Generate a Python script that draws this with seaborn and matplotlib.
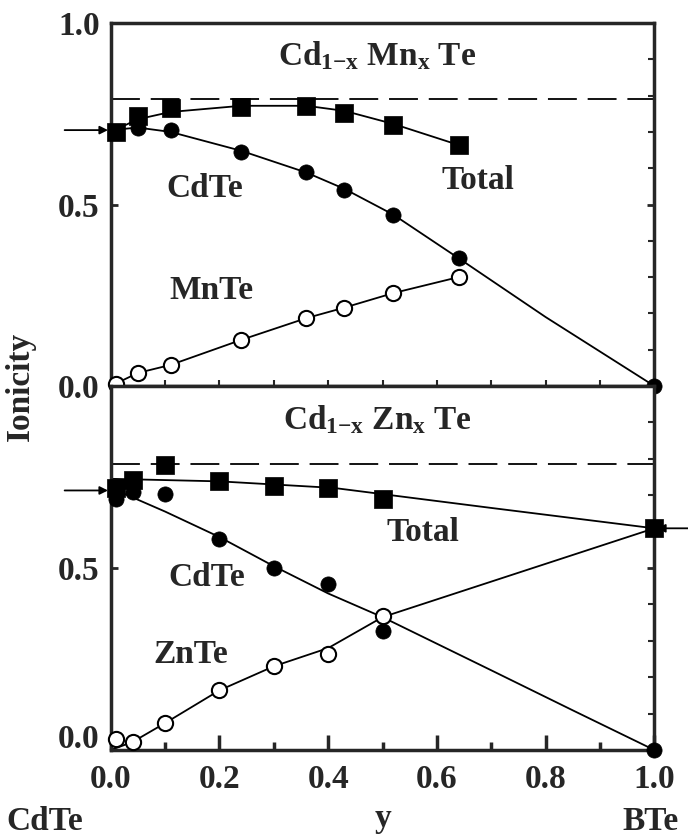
import numpy as np
import pandas as pd
import seaborn as sns
from matplotlib import pyplot as plt
from matplotlib.ticker import MultipleLocator
from matplotlib.transforms import ScaledTranslation

# Cd1-x Mnx Te panel: measured points
mn_x = [0.01, 0.05, 0.11, 0.24, 0.36, 0.43, 0.52, 0.64]
mn_total = [0.70, 0.745, 0.766, 0.769, 0.771, 0.752, 0.719, 0.664]
mn_cdte = [0.70, 0.71, 0.705, 0.645, 0.59, 0.54, 0.471, 0.352]
mn_mnte = [0.005, 0.036, 0.058, 0.127, 0.187, 0.216, 0.256, 0.30]
mn_end_x = [1.0]
mn_end_cdte = [0.0]

# Cd1-x Mnx Te panel: fitted curves
mn_total_fit_x = [0.0, 0.05, 0.11, 0.24, 0.36, 0.43, 0.52, 0.64]
mn_total_fit_y = [0.70, 0.735, 0.755, 0.772, 0.772, 0.758, 0.722, 0.664]
mn_cdte_fit_x = [0.0, 0.05, 0.11, 0.24, 0.36, 0.43, 0.52, 0.64, 0.8, 1.0]
mn_cdte_fit_y = [0.705, 0.712, 0.70, 0.648, 0.588, 0.543, 0.472, 0.352, 0.19, 0.0]
mn_mnte_fit_x = [0.0, 0.05, 0.11, 0.24, 0.36, 0.43, 0.52, 0.64]
mn_mnte_fit_y = [0.0, 0.036, 0.058, 0.127, 0.187, 0.216, 0.256, 0.30]
mn_limit = 0.79
mn_cdte_ref = 0.705

# Cd1-x Znx Te panel: measured points
zn_x = [0.01, 0.04, 0.10, 0.20, 0.30, 0.40, 0.50, 1.0]
zn_total = [0.72, 0.743, 0.784, 0.738, 0.724, 0.719, 0.689, 0.609]
zn_cdte = [0.69, 0.71, 0.702, 0.579, 0.50, 0.456, 0.328, 0.0]
zn_znte_x = [0.01, 0.04, 0.10, 0.20, 0.30, 0.40, 0.50]
zn_znte = [0.03, 0.022, 0.074, 0.164, 0.23, 0.265, 0.369]

# Cd1-x Znx Te panel: fitted curves
zn_total_fit_x = [0.0, 0.2, 0.41, 0.7, 1.0]
zn_total_fit_y = [0.745, 0.738, 0.72, 0.665, 0.609]
zn_cdte_fit_x = [0.0, 0.1, 0.2, 0.3, 0.4, 0.5, 0.7, 0.85, 1.0]
zn_cdte_fit_y = [0.72, 0.655, 0.585, 0.505, 0.43, 0.365, 0.219, 0.109, 0.0]
zn_znte_fit_x = [0.0, 0.04, 0.1, 0.2, 0.3, 0.4, 0.5, 1.0]
zn_znte_fit_y = [0.0, 0.022, 0.074, 0.164, 0.23, 0.28, 0.365, 0.609]
zn_limit = 0.785
zn_cdte_ref = 0.713
zn_znte_ref = 0.609

sns.set_style("ticks")
plt.rcParams['font.family'] = ['Liberation Serif', 'DejaVu Serif']
plt.rcParams['font.weight'] = 'bold'
plt.rcParams['axes.labelweight'] = 'bold'
plt.rcParams['mathtext.fontset'] = 'custom'
plt.rcParams['mathtext.rm'] = 'Liberation Serif:bold'
plt.rcParams['mathtext.it'] = 'Liberation Serif:bold'
plt.rcParams['mathtext.bf'] = 'Liberation Serif:bold'

FS = 24
LW = 1.3

fig = plt.figure(figsize=(6.88, 8.38), dpi=100)
ax1 = fig.add_axes([0.161, 0.5394, 0.790, 0.4331])
ax2 = fig.add_axes([0.161, 0.1050, 0.790, 0.4344])


def line(ax, x, y, **kw):
    sns.lineplot(x=x, y=y, ax=ax, color='black', lw=LW, estimator=None,
                 sort=False, zorder=2, **kw)


def filled(ax, x, y, marker, s):
    sns.scatterplot(x=x, y=y, ax=ax, marker=marker, s=s, color='black',
                    edgecolor='black', linewidth=0.5, zorder=4, clip_on=False)


def hollow(ax, x, y):
    sns.scatterplot(x=x, y=y, ax=ax, marker='o', s=120, color='white',
                    edgecolor='black', linewidth=1.5, zorder=4, clip_on=False)


# top panel
ax1.axhline(mn_limit, color='black', lw=LW, dashes=(16, 6), zorder=1)
line(ax1, mn_total_fit_x, mn_total_fit_y)
line(ax1, mn_cdte_fit_x, mn_cdte_fit_y)
line(ax1, mn_mnte_fit_x, mn_mnte_fit_y)
filled(ax1, mn_x, mn_total, 's', 160)
filled(ax1, mn_x, mn_cdte, 'o', 120)
filled(ax1, mn_end_x, mn_end_cdte, 'o', 120)
hollow(ax1, mn_x, mn_mnte)
ax1.annotate('', xy=(0.0, mn_cdte_ref), xytext=(-0.09, mn_cdte_ref),
             arrowprops=dict(arrowstyle='-|>', lw=LW, color='black', mutation_scale=12),
             annotation_clip=False)

ax1.text(0.49, 0.91, r'Cd$_{1\mathrm{-}x}$ Mn$_x$ Te', fontsize=FS, ha='center', va='center')
ax1.text(0.173, 0.545, 'CdTe', fontsize=FS, ha='center', va='center')
ax1.text(0.675, 0.565, 'Total', fontsize=FS, ha='center', va='center')
ax1.text(0.186, 0.264, 'MnTe', fontsize=FS, ha='center', va='center')

# bottom panel
ax2.axhline(zn_limit, color='black', lw=LW, dashes=(16, 6), zorder=1)
line(ax2, zn_total_fit_x, zn_total_fit_y)
line(ax2, zn_cdte_fit_x, zn_cdte_fit_y)
line(ax2, zn_znte_fit_x, zn_znte_fit_y)
filled(ax2, zn_x, zn_cdte, 'o', 120)
filled(ax2, zn_x, zn_total, 's', 160)
hollow(ax2, zn_znte_x, zn_znte)
ax2.annotate('', xy=(0.0, zn_cdte_ref), xytext=(-0.09, zn_cdte_ref),
             arrowprops=dict(arrowstyle='-|>', lw=LW, color='black', mutation_scale=12),
             annotation_clip=False)
ax2.annotate('', xy=(1.0, zn_znte_ref), xytext=(1.07, zn_znte_ref),
             arrowprops=dict(arrowstyle='-|>', lw=LW, color='black', mutation_scale=12),
             annotation_clip=False)

ax2.text(0.49, 0.907, r'Cd$_{1\mathrm{-}x}$ Zn$_x$ Te', fontsize=FS, ha='center', va='center')
ax2.text(0.575, 0.598, 'Total', fontsize=FS, ha='center', va='center')
ax2.text(0.177, 0.473, 'CdTe', fontsize=FS, ha='center', va='center')
ax2.text(0.147, 0.262, 'ZnTe', fontsize=FS, ha='center', va='center')

for ax in (ax1, ax2):
    ax.set_xlim(0, 1)
    ax.set_ylim(0, 1)
    ax.set_xlabel('')
    ax.set_ylabel('')
    for sp in ax.spines.values():
        sp.set_visible(True)
        sp.set_linewidth(2.5)
    ax.xaxis.set_major_locator(MultipleLocator(0.2))
    ax.xaxis.set_minor_locator(MultipleLocator(0.1))
    ax.yaxis.set_major_locator(MultipleLocator(0.5))
    ax.yaxis.set_minor_locator(MultipleLocator(0.1))
    ax.yaxis.set_major_formatter(lambda v, p: f'{v:.1f}')
    ax.tick_params(axis='y', which='major', direction='in', left=True, right=True,
                   length=5, width=2, labelsize=FS, pad=8)
    ax.tick_params(axis='y', which='minor', direction='in', left=False, right=True,
                   length=4, width=1.5)

ax1.tick_params(axis='x', which='both', direction='in', length=4, width=1.5,
                labelbottom=False)
ax2.tick_params(axis='x', which='major', direction='in', length=11, width=2.5,
                labelsize=FS, pad=10)
ax2.tick_params(axis='x', which='minor', direction='in', length=5.5, width=2.5)
ax2.xaxis.set_major_formatter(lambda v, p: f'{v:.1f}')
ax2.set_yticks([0.0, 0.5])

# lift the bottom "0.0" a little, as in the source figure
lab0 = ax2.get_yticklabels()[0]
lab0.set_transform(lab0.get_transform() + ScaledTranslation(0, 10 / 72, fig.dpi_scale_trans))

ax2.set_xlabel('y', fontsize=FS, fontweight='bold', labelpad=6)
ax2.text(-0.1215, -0.197, 'CdTe', fontsize=FS, ha='center', va='center',
         transform=ax2.transAxes)
ax2.text(0.993, -0.197, 'BTe', fontsize=FS, ha='center', va='center',
         transform=ax2.transAxes)
fig.text(0.029, 0.539, 'Ionicity', fontsize=FS, rotation=90, ha='center', va='center')

fig.savefig('out.png', dpi=100)
